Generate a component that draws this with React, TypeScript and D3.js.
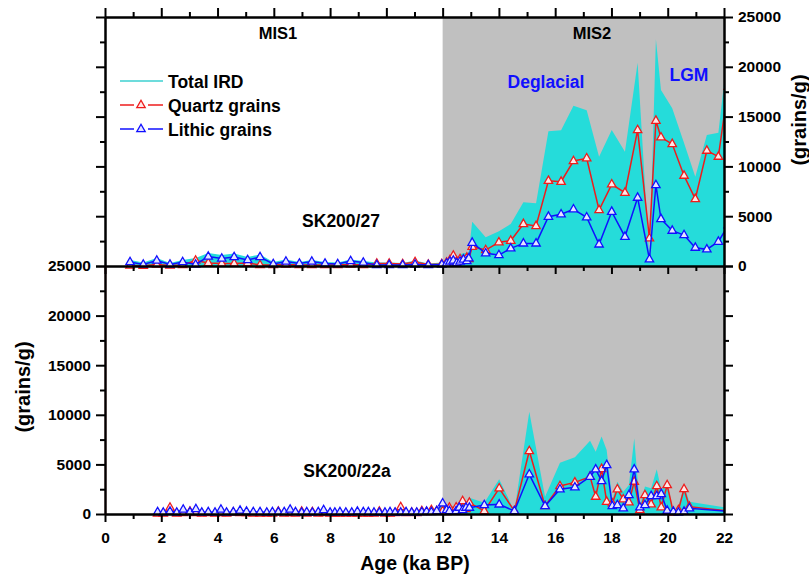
import { useEffect, useRef } from "react";
import * as d3 from "d3";

// SK200/27 (upper panel)
const topAge = [
  0.89, 1.36, 1.84, 2.31, 2.76, 3.22, 3.67, 4.15, 4.59, 5.07,
  5.51, 5.98, 6.43, 6.91, 7.35, 7.82, 8.27, 8.73, 9.18, 9.66,
  10.1, 10.58, 11.02, 11.49, 11.97, 12.14, 12.26, 12.38, 12.5, 12.62,
  12.74, 12.86, 12.93, 13.05, 13.53, 14.0, 14.42, 14.87, 15.32, 15.76,
  16.21, 16.65, 17.12, 17.56, 18.01, 18.48, 18.93, 19.35, 19.58, 19.76,
  20.16, 20.58, 20.98, 21.39, 21.8, 22.15,
];
const topQuartz = [
  50, 30, 150, 50, 100, 550, 300, 250, 250, 300,
  100, 100, 150, 100, 100, 100, 100, 150, 100, 250,
  250, 200, 400, 150, 200, 350, 600, 1050, 450, 700,
  650, 850, 700, 1940, 1600, 2380, 2540, 4220, 4020, 8560,
  8460, 10540, 10810, 5620, 8200, 7360, 13650, 2780, 14590, 12920,
  12250, 9070, 6730, 11580, 10980, 18000,
];
const topLithic = [
  400, 150, 550, 150, 400, 150, 950, 750, 900, 600,
  900, 200, 450, 250, 450, 250, 200, 500, 350, 100,
  100, 100, 150, 100, 150, 250, 450, 550, 300, 450,
  650, 500, 770, 2340, 1270, 1100, 1770, 2270, 2270, 4950,
  5190, 5690, 4890, 2170, 5450, 2940, 6860, 670, 8130, 4720,
  3550, 3110, 1840, 1670, 2440, 4100,
];
const topTotal = [
  600, 350, 800, 300, 600, 800, 1300, 1100, 1250, 900,
  1150, 400, 650, 400, 600, 400, 350, 650, 500, 350,
  350, 300, 550, 250, 350, 600, 1000, 1500, 800, 1150,
  1300, 1300, 1400, 4450, 2880, 3500, 4220, 6400, 6290, 13520,
  13620, 16080, 15630, 10970, 13650, 11480, 20410, 700, 22760, 17670,
  15830, 12350, 8970, 13150, 13380, 22000,
];

// SK200/22a (lower panel)
const botAge = [
  1.87, 2.07, 2.31, 2.55, 2.78, 3.02, 3.23, 3.44, 3.67, 3.91,
  4.12, 4.32, 4.56, 4.8, 5.03, 5.27, 5.51, 5.75, 5.95, 6.16,
  6.37, 6.58, 6.77, 6.99, 7.17, 7.37, 7.58, 7.77, 8.0, 8.17,
  8.35, 8.56, 8.77, 8.97, 9.18, 9.36, 9.56, 9.75, 9.95, 10.13,
  10.31, 10.51, 10.7, 10.9, 11.08, 11.26, 11.43, 11.6, 11.79,
  12.0, 12.14, 12.24, 12.48, 12.59, 12.71, 12.83, 12.95, 13.48, 14.01,
  14.55, 15.08, 15.64, 16.17, 16.7, 17.24, 17.44, 17.65, 17.83, 18.03,
  18.21, 18.42, 18.62, 18.81, 19.01, 19.19, 19.41, 19.61, 19.77, 19.98,
  20.2, 20.38, 20.58, 20.77, 22.2,
];
const botQuartz = [
  50, 50, 650, 50, 100, 250, 100, 50, 100, 50,
  100, 50, 150, 100, 100, 50, 50, 50, 50, 250,
  50, 100, 50, 250, 50, 200, 50, 100, 50, 50,
  50, 50, 50, 50, 50, 50, 50, 250, 50, 50,
  100, 700, 100, 150, 100, 300, 200, 400, 300,
  300, 200, 640, 670, 400, 1310, 500, 1140, 300, 2590,
  300, 6350, 800, 2820, 3190, 3760, 1750, 4540, 1240, 1075,
  2490, 1480, 1180, 3260, 400, 1915, 975, 2820, 670, 2920,
  150, 400, 2520, 740, 300,
];
const botLithic = [
  200, 150, 250, 150, 450, 200, 500, 150, 200, 150,
  450, 150, 200, 350, 250, 200, 200, 150, 200, 200,
  200, 450, 200, 150, 200, 150, 200, 400, 150, 150,
  200, 150, 150, 250, 200, 200, 150, 150, 150, 200,
  150, 150, 200, 150, 150, 200, 250, 200, 300,
  1075, 400, 300, 300, 640, 400, 640, 640, 900, 970,
  300, 4000, 800, 2490, 2690, 3760, 4500, 3330, 4940, 800,
  900, 570, 1915, 4500, 670, 900, 1815, 1815, 2020, 340,
  235, 150, 235, 570, 250,
];
const botTotal = [
  250, 200, 700, 200, 500, 300, 550, 200, 250, 200,
  500, 200, 250, 400, 300, 250, 250, 200, 250, 300,
  250, 500, 250, 300, 250, 250, 250, 450, 200, 200,
  250, 200, 200, 300, 250, 250, 200, 300, 200, 250,
  200, 750, 250, 250, 200, 350, 300, 450, 400,
  1200, 500, 750, 800, 750, 1400, 800, 1650, 1140, 3500,
  300, 10300, 1750, 5170, 5710, 7390, 6280, 7800, 6450, 1410,
  3260, 2250, 2920, 7630, 740, 2760, 2590, 4500, 2420, 3090,
  300, 740, 2920, 1240, 600,
];

const xMajor = [0, 2, 4, 6, 8, 10, 12, 14, 16, 18, 20, 22];
const xMinor = [1, 3, 5, 7, 9, 11, 13, 15, 17, 19, 21];
const yMajor = [0, 5000, 10000, 15000, 20000, 25000];
const yMinor = [2500, 7500, 12500, 17500, 22500];
const legendItems = ["Total IRD", "Quartz grains", "Lithic grains"];

const FONT = "'Liberation Sans', Arial, sans-serif";
const CYAN = "#25dcda";
const RED = "#ee1c1c";
const BLUE = "#1010ff";
const TRI = "M0,-4.8L4.2,2.6L-4.2,2.6Z";

export default function App() {
  const ref = useRef<SVGSVGElement>(null);

  useEffect(() => {
    const svg = d3.select(ref.current);
    svg.selectAll("*").remove();

    const x = d3.scaleLinear().domain([0, 22]).range([105, 724]);
    const yTop = d3.scaleLinear().domain([0, 25000]).range([266, 17]);
    const yBot = d3.scaleLinear().domain([0, 25000]).range([514, 266]);

    svg.append("defs").append("clipPath").attr("id", "plotclip")
      .append("rect").attr("x", x(0)).attr("y", 0)
      .attr("width", x(22) - x(0)).attr("height", 579);

    // MIS2 shading
    svg.append("rect")
      .attr("x", x(12)).attr("y", yTop(25000))
      .attr("width", x(22) - x(12)).attr("height", yBot(0) - yTop(25000))
      .attr("fill", "#c0c0c0");

    function panel(age: number[], quartz: number[], lithic: number[], total: number[], y: d3.ScaleLinear<number, number>) {
      const g = svg.append("g").attr("clip-path", "url(#plotclip)");
      const area = d3.area<number>().x((d, i) => x(age[i])).y0(y(0)).y1(d => y(d));
      g.append("path").datum(total).attr("d", area).attr("fill", CYAN);

      const line = d3.line<number>().x((d, i) => x(age[i])).y(d => y(d));
      const series: [number[], string, string][] = [
        [quartz, RED, "#ffe8e8"],
        [lithic, BLUE, "#e4e4ff"],
      ];
      series.forEach(([vals, col, fill]) => {
        g.append("path").datum(vals).attr("d", line)
          .attr("fill", "none").attr("stroke", col).attr("stroke-width", 1.5);
        g.selectAll(null).data(vals).enter().append("path")
          .attr("d", TRI)
          .attr("transform", (d, i) => `translate(${x(age[i])},${y(d)})`)
          .attr("fill", fill).attr("stroke", col).attr("stroke-width", 1.3);
      });
    }

    panel(topAge, topQuartz, topLithic, topTotal, yTop);
    panel(botAge, botQuartz, botLithic, botTotal, yBot);

    function styleAxis(g: any, labels: boolean) {
      g.select(".domain").attr("stroke", "#000").attr("stroke-width", 2);
      g.selectAll(".tick line").attr("stroke", "#000").attr("stroke-width", 2);
      g.selectAll(".tick text")
        .attr("font-family", FONT).attr("font-weight", "bold")
        .attr("font-size", 15.5).attr("fill", "#000");
      if (!labels) g.selectAll(".tick text").remove();
    }

    function addAxis(gen: any, tx: number, ty: number, labels: boolean) {
      const g = svg.append("g").attr("transform", `translate(${tx},${ty})`).call(gen);
      styleAxis(g, labels);
      return g;
    }

    const none = () => "";
    // x axes: top of upper panel, shared middle, bottom
    addAxis(d3.axisTop(x).tickValues(xMajor).tickSize(9).tickSizeOuter(0).tickFormat(none), 0, yTop(25000), false);
    addAxis(d3.axisTop(x).tickValues(xMinor).tickSize(5).tickSizeOuter(0).tickFormat(none), 0, yTop(25000), false);
    addAxis(d3.axisBottom(x).tickValues(xMajor).tickSize(8).tickSizeOuter(0).tickFormat(none), 0, yTop(0), false);
    addAxis(d3.axisBottom(x).tickValues(xMinor).tickSize(5).tickSizeOuter(0).tickFormat(none), 0, yTop(0), false);
    addAxis(d3.axisBottom(x).tickValues(xMajor).tickSize(8).tickPadding(10).tickSizeOuter(0).tickFormat(d3.format("d")), 0, yBot(0), true);
    addAxis(d3.axisBottom(x).tickValues(xMinor).tickSize(5).tickSizeOuter(0).tickFormat(none), 0, yBot(0), false);

    // y axes
    addAxis(d3.axisLeft(yTop).tickValues(yMajor).tickSize(9).tickSizeOuter(0).tickFormat(none), x(0), 0, false);
    addAxis(d3.axisLeft(yTop).tickValues(yMinor).tickSize(5).tickSizeOuter(0).tickFormat(none), x(0), 0, false);
    addAxis(d3.axisRight(yTop).tickValues(yMajor).tickSize(9).tickPadding(5).tickSizeOuter(0).tickFormat(d3.format("d")), x(22), 0, true);
    addAxis(d3.axisRight(yTop).tickValues(yMinor).tickSize(5).tickSizeOuter(0).tickFormat(none), x(22), 0, false);
    addAxis(d3.axisLeft(yBot).tickValues(yMajor).tickSize(9).tickPadding(5).tickSizeOuter(0).tickFormat(d3.format("d")), x(0), 0, true)
      .select(".domain").attr("stroke", "#2a0000");
    addAxis(d3.axisLeft(yBot).tickValues(yMinor).tickSize(5).tickSizeOuter(0).tickFormat(none), x(0), 0, false);
    addAxis(d3.axisRight(yBot).tickValues(yMajor).tickSize(9).tickSizeOuter(0).tickFormat(none), x(22), 0, false);
    addAxis(d3.axisRight(yBot).tickValues(yMinor).tickSize(5).tickSizeOuter(0).tickFormat(none), x(22), 0, false);

    const text = (t: string, tx: number, ty: number, size: number, color = "#000", anchor = "middle") =>
      svg.append("text").text(t).attr("x", tx).attr("y", ty)
        .attr("font-family", FONT).attr("font-weight", "bold")
        .attr("font-size", size).attr("fill", color).attr("text-anchor", anchor);

    text("MIS1", 278, 39, 16.5);
    text("MIS2", 592, 39, 16.5);
    text("Deglacial", 546, 88, 17.5, BLUE);
    text("LGM", 689, 81, 17.5, BLUE);
    text("SK200/27", 341, 227, 17.5);
    text("SK200/22a", 347, 477, 17.5);
    text("Age (ka BP)", 415, 570, 19.5);
    text("(grains/g)", 0, 0, 20).attr("transform", "translate(30,387) rotate(-90)");
    text("(grains/g)", 0, 0, 20).attr("transform", "translate(806,120) rotate(-90)");

    // legend
    const lg = svg.append("g");
    legendItems.forEach((name, i) => {
      const ly = 81 + i * 24;
      if (i === 0) {
        lg.append("line").attr("x1", 120).attr("x2", 163).attr("y1", ly).attr("y2", ly)
          .attr("stroke", "#3cd0d0").attr("stroke-width", 1.5);
      } else {
        const col = i === 1 ? RED : BLUE;
        const fill = i === 1 ? "#ffe8e8" : "#e4e4ff";
        lg.append("line").attr("x1", 120).attr("x2", 134).attr("y1", ly).attr("y2", ly)
          .attr("stroke", col).attr("stroke-width", 1.5);
        lg.append("line").attr("x1", 148).attr("x2", 163).attr("y1", ly).attr("y2", ly)
          .attr("stroke", col).attr("stroke-width", 1.5);
        lg.append("path").attr("d", TRI).attr("transform", `translate(141,${ly})`)
          .attr("fill", fill).attr("stroke", col).attr("stroke-width", 1.3);
      }
      text(name, 168, ly + 7, 17.5, "#000", "start");
    });
  }, []);

  return (
    <svg ref={ref} width={809} height={579}
      style={{ position: "absolute", left: 0, top: 0, background: "#fff" }} />
  );
}
